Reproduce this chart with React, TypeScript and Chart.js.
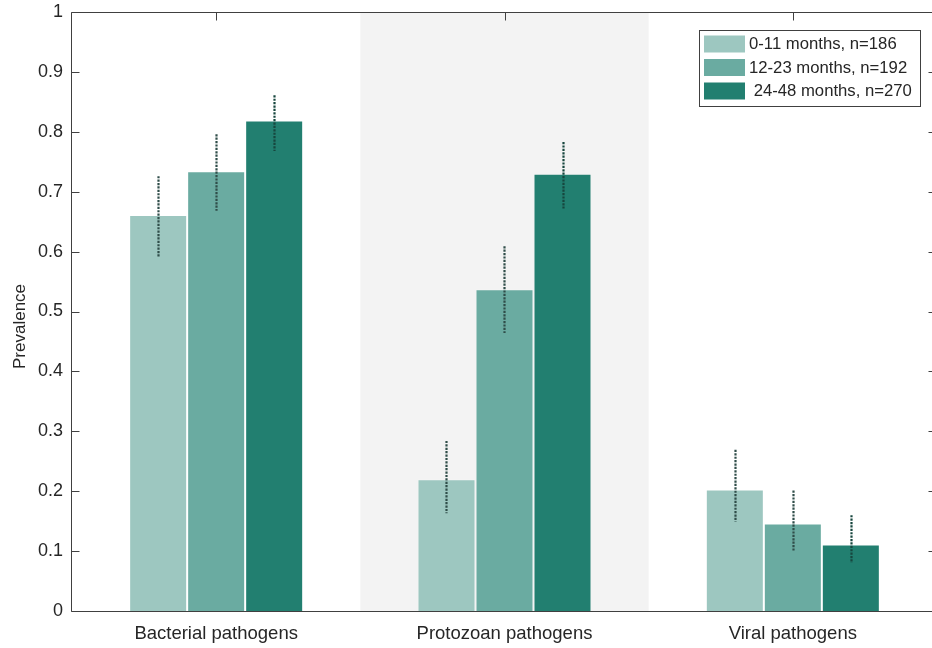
import React, { useEffect, useRef } from "react";
import { Chart, registerables } from "chart.js";

Chart.register(...registerables);

// Pathogen groups along the x axis
const categories = ["Bacterial pathogens", "Protozoan pathogens", "Viral pathogens"];

// Age groups (legend labels)
const seriesLabels = ["0-11 months, n=186", "12-23 months, n=192", " 24-48 months, n=270"];

// Prevalence per age group, one value per pathogen group
const prev0to11 = [0.661, 0.22, 0.203];
const prev12to23 = [0.734, 0.537, 0.146];
const prev24to48 = [0.819, 0.73, 0.111];

// 95% confidence bounds
const low0to11 = [0.59, 0.163, 0.149];
const high0to11 = [0.726, 0.284, 0.269];
const low12to23 = [0.668, 0.464, 0.099];
const high12to23 = [0.796, 0.609, 0.201];
const low24to48 = [0.768, 0.672, 0.08];
const high24to48 = [0.861, 0.783, 0.16];

// y-axis ticks
const yTicks = [0, 0.1, 0.2, 0.3, 0.4, 0.5, 0.6, 0.7, 0.8, 0.9, 1];
const yTitle = "Prevalence";

const barColors = ["#9dc7c0", "#6aaba1", "#227f70"];
const FONT = "'Liberation Sans', Arial, Helvetica, sans-serif";
const AXIS_COLOR = "#404040";
const TEXT_COLOR = "#262626";

const lows = [low0to11, low12to23, low24to48];
const highs = [high0to11, high12to23, high24to48];

// Light grey band behind the middle category
const bandPlugin = {
  id: "band",
  beforeDatasetsDraw(chart: any) {
    const { ctx, chartArea, scales } = chart;
    const x = scales.x;
    const step = (chartArea.right - chartArea.left) / categories.length;
    const c = x.getPixelForValue(1);
    ctx.save();
    ctx.fillStyle = "#f3f3f3";
    ctx.fillRect(c - step / 2, chartArea.top, step, chartArea.bottom - chartArea.top);
    ctx.restore();
  },
};

// Box around the plot with inward tick marks, plus the rotated y title
const axesPlugin = {
  id: "axesBox",
  beforeDatasetsDraw(chart: any) {
    const { ctx, chartArea, scales } = chart;
    const { left, right, top, bottom } = chartArea;
    ctx.save();
    ctx.strokeStyle = AXIS_COLOR;
    ctx.lineWidth = 1;
    ctx.beginPath();
    const L = Math.round(left) - 0.5;
    const R = Math.round(right) - 0.5;
    const T = Math.round(top) + 0.5;
    const B = Math.round(bottom) + 0.5;
    ctx.moveTo(L, T);
    ctx.lineTo(R, T);
    ctx.lineTo(R, B);
    ctx.lineTo(L, B);
    ctx.closePath();
    const len = 8;
    yTicks.forEach((v) => {
      const y = Math.round(scales.y.getPixelForValue(v)) + 0.5;
      ctx.moveTo(L, y);
      ctx.lineTo(L + len, y);
      ctx.moveTo(R, y);
      ctx.lineTo(R - len, y);
    });
    categories.forEach((_, i) => {
      const x = Math.round(scales.x.getPixelForValue(i)) + 0.5;
      ctx.moveTo(x, B);
      ctx.lineTo(x, B - len);
      ctx.moveTo(x, T);
      ctx.lineTo(x, T + len);
    });
    ctx.stroke();

    ctx.translate(20, scales.y.getPixelForValue(0.475));
    ctx.rotate(-Math.PI / 2);
    ctx.font = `17px ${FONT}`;
    ctx.fillStyle = TEXT_COLOR;
    ctx.textAlign = "center";
    ctx.textBaseline = "middle";
    ctx.fillText(yTitle, 0, 0);
    ctx.restore();
  },
};

// Dotted vertical confidence intervals centred on each bar
const errorBarPlugin = {
  id: "errorBars",
  afterDatasetsDraw(chart: any) {
    const { ctx, scales } = chart;
    ctx.save();
    ctx.lineWidth = 2.2;
    ctx.setLineDash([2.2, 1.2]);
    chart.data.datasets.forEach((ds: any, di: number) => {
      const meta = chart.getDatasetMeta(di);
      ctx.strokeStyle = di === 2 ? "#17463e" : "#2f4d49";
      meta.data.forEach((bar: any, i: number) => {
        const x = Math.round(bar.x) + 0.5;
        const y1 = scales.y.getPixelForValue(lows[di][i]);
        const y2 = scales.y.getPixelForValue(highs[di][i]);
        ctx.beginPath();
        ctx.moveTo(x, y2);
        ctx.lineTo(x, y1);
        ctx.stroke();
      });
    });
    ctx.restore();
  },
};

// Boxed legend in the upper right corner
const legendPlugin = {
  id: "boxLegend",
  afterDraw(chart: any) {
    const { ctx } = chart;
    const bx = 699.5;
    const by = 30.5;
    const bw = 221;
    const bh = 76;
    ctx.save();
    ctx.fillStyle = "#ffffff";
    ctx.fillRect(bx, by, bw, bh);
    ctx.strokeStyle = AXIS_COLOR;
    ctx.lineWidth = 1;
    ctx.strokeRect(bx, by, bw, bh);
    ctx.font = `16.7px ${FONT}`;
    ctx.textBaseline = "middle";
    ctx.textAlign = "left";
    chart.data.datasets.forEach((ds: any, i: number) => {
      const cy = 44 + i * 23.5;
      ctx.fillStyle = ds.backgroundColor;
      ctx.fillRect(704, cy - 8.5, 41, 17);
      ctx.fillStyle = TEXT_COLOR;
      ctx.fillText(ds.label, 749, cy + 0.5);
    });
    ctx.restore();
  },
};

export default function App() {
  const canvasRef = useRef<HTMLCanvasElement | null>(null);

  useEffect(() => {
    if (!canvasRef.current) return;
    const series = [prev0to11, prev12to23, prev24to48];
    const chart = new Chart(canvasRef.current, {
      type: "bar",
      data: {
        labels: categories,
        datasets: series.map((values, i) => ({
          label: seriesLabels[i],
          data: values,
          backgroundColor: barColors[i],
          borderColor: "rgba(255,255,255,0.22)",
          borderWidth: 1,
          borderSkipped: "bottom",
          categoryPercentage: 0.6035,
          barPercentage: 1,
        })),
      },
      options: {
        responsive: false,
        animation: false,
        devicePixelRatio: 1,
        layout: { padding: { top: 12, right: 9, left: 0, bottom: 0 } },
        plugins: {
          legend: { display: false },
          tooltip: { enabled: false },
        },
        scales: {
          x: {
            type: "category",
            offset: true,
            grid: { display: false, drawTicks: false },
            border: { display: false },
            ticks: {
              color: TEXT_COLOR,
              font: { family: FONT, size: 18.5 },
              padding: 12,
              maxRotation: 0,
            },
            afterFit(scale: any) {
              scale.height = 37;
              scale.paddingLeft = 0;
              scale.paddingRight = 0;
            },
          },
          y: {
            min: 0,
            max: 1,
            grid: { display: false, drawTicks: false },
            border: { display: false },
            afterBuildTicks(scale: any) {
              scale.ticks = yTicks.map((v) => ({ value: v }));
            },
            ticks: {
              color: TEXT_COLOR,
              font: { family: FONT, size: 18 },
              padding: 9,
              callback: (v: any) => String(+Number(v).toFixed(1)),
            },
            afterFit(scale: any) {
              scale.width = 72;
              scale.paddingTop = 0;
              scale.paddingBottom = 0;
            },
          },
        },
      },
      plugins: [bandPlugin, axesPlugin, errorBarPlugin, legendPlugin],
    });
    return () => chart.destroy();
  }, []);

  return (
    <div
      style={{
        position: "fixed",
        left: 0,
        top: 0,
        width: 932,
        height: 648,
        overflow: "hidden",
        background: "#ffffff",
      }}
    >
      <canvas ref={canvasRef} width={946} height={648} style={{ display: "block" }} />
    </div>
  );
}
